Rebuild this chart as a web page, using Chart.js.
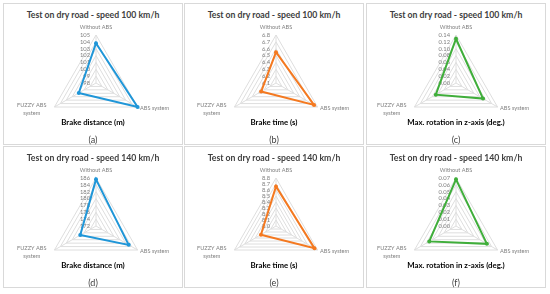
<!DOCTYPE html>
<html>
<head>
<meta charset="utf-8">
<script src="https://cdn.jsdelivr.net/npm/chart.js@4"></script>
<style>
  body { margin: 0; background: #fff; width: 550px; height: 294px; position: relative; overflow: hidden; font-family: Lato, "Open Sans", sans-serif; }
  .panel { position: absolute; width: 180px; height: 142px; box-sizing: border-box; border: 1px solid #d9d9d9; background: #fff; }
  .panel canvas { position: absolute; left: 0; top: 0; }
  .title { position: absolute; left: 0; width: 178px; top: 5px; line-height: 12px; text-align: center; font-size: 8.7px; font-weight: bold; color: #404040; white-space: nowrap; }
  .axis { position: absolute; left: 0; width: 178px; top: 113px; line-height: 10px; text-align: center; font-size: 7.8px; font-weight: bold; color: #000; white-space: nowrap; }
  .cap { position: absolute; left: 0; width: 178px; top: 131px; line-height: 10px; text-align: center; font-size: 9px; color: #404040; }
</style>
</head>
<body>
<div id="root"></div>
<script>
// axis categories of every radar
const axisLabels = ['Without ABS', 'ABS system', ['FUZZY ABS', 'system']];

// speed 100 km/h
const brakeDistance100 = [103.8, 105, 100.9];
const brakeTime100 = [6.55, 6.74, 6.35];
const rotation100 = [0.129, 0.091, 0.068];

// speed 140 km/h
const brakeDistance140 = [185.6, 183.0, 177.3];
const brakeTime140 = [8.66, 8.74, 8.29];
const rotation140 = [0.068, 0.052, 0.045];

// tick labels (first = centre, last = outer ring)
const distanceTicks100 = ['98', '99', '100', '101', '102', '103', '104', '105'];
const timeTicks100 = ['6.1', '6.2', '6.3', '6.4', '6.5', '6.6', '6.7', '6.8'];
const rotationTicks100 = ['0.00', '0.02', '0.04', '0.06', '0.08', '0.10', '0.12', '0.14'];
const distanceTicks140 = ['172', '174', '176', '178', '180', '182', '184', '186'];
const timeTicks140 = ['8.0', '8.1', '8.2', '8.3', '8.4', '8.5', '8.6', '8.7', '8.8'];
const rotationTicks140 = ['0.00', '0.01', '0.02', '0.03', '0.04', '0.05', '0.06', '0.07'];

const titles = ['Test on dry road - speed 100 km/h', 'Test on dry road - speed 140 km/h'];
const axisTitles = ['Brake distance (m)', 'Brake time (s)', 'Max. rotation in z-axis (deg.)'];
const captions = ['(a)', '(b)', '(c)', '(d)', '(e)', '(f)'];

const BLUE = '#1f96d8', ORANGE = '#f47920', GREEN = '#3fae3a';

const panels = [
    { values: brakeDistance100, ticks: distanceTicks100, color: BLUE },
    { values: brakeTime100, ticks: timeTicks100, color: ORANGE },
    { values: rotation100, ticks: rotationTicks100, color: GREEN },
    { values: brakeDistance140, ticks: distanceTicks140, color: BLUE },
    { values: brakeTime140, ticks: timeTicks140, color: ORANGE },
    { values: rotation140, ticks: rotationTicks140, color: GREEN }
];

const panelLeft = [3, 184, 366];
const panelTop = [3, 146];
const centerX = [96, 276, 456];
const centerY = [83, 226];
const RADIUS = 48;
const CW = 178, CH = 140;

// draws tick labels left of the vertical axis and the category labels, Excel style
const excelLabels = {
    id: 'excelLabels',
    beforeDatasetsDraw(chart, args, opts) {
        const s = chart.scales.r;
        const ctx = chart.ctx;
        ctx.save();
        ctx.fillStyle = '#808080';
        ctx.font = '5.8px Lato';
        ctx.textAlign = 'right';
        ctx.textBaseline = 'middle';
        opts.ticks.forEach(t => {
            const y = s.yCenter - s.getDistanceFromCenterForValue(parseFloat(t));
            ctx.fillText(t, s.xCenter - 6, y);
        });

        ctx.font = '5.6px Lato';
        const R = s.drawingArea;
        // top
        let p = s.getPointPosition(0, R);
        ctx.textAlign = 'center';
        ctx.fillText(axisLabels[0], p.x, p.y - 8);
        // lower right
        p = s.getPointPosition(1, R);
        ctx.textAlign = 'left';
        ctx.fillText(axisLabels[1], p.x + 2.5, p.y + 1);
        // lower left, two lines
        p = s.getPointPosition(2, R);
        const lines = axisLabels[2];
        const w = Math.max(...lines.map(l => ctx.measureText(l).width));
        ctx.textAlign = 'center';
        lines.forEach((l, i) => ctx.fillText(l, p.x - 8 - w / 2, p.y - 2.3 + i * 8));
        ctx.restore();
    }
};

const root = document.getElementById('root');

panels.forEach((cfg, i) => {
    const col = i % 3, row = Math.floor(i / 3);
    const div = document.createElement('div');
    div.className = 'panel';
    div.style.left = panelLeft[col] + 'px';
    div.style.top = panelTop[row] + 'px';
    div.innerHTML = `<div class="title">${titles[row]}</div>
        <canvas width="${CW}" height="${CH}"></canvas>
        <div class="axis">${axisTitles[col]}</div>
        <div class="cap">${captions[i]}</div>`;
    root.appendChild(div);

    const cx = centerX[col] - panelLeft[col] - 1;
    const cy = centerY[row] - panelTop[row] - 1;
    const tickVals = cfg.ticks.map(Number);

    new Chart(div.querySelector('canvas'), {
        type: 'radar',
        data: {
            labels: axisLabels,
            datasets: [{
                data: cfg.values,
                borderColor: cfg.color,
                backgroundColor: cfg.color,
                borderWidth: 2,
                pointRadius: 2,
                pointBorderWidth: 0,
                pointBackgroundColor: cfg.color,
                fill: false,
                clip: false
            }]
        },
        options: {
            responsive: false,
            animation: false,
            layout: {
                padding: { left: cx - RADIUS, right: CW - cx - RADIUS, top: cy - RADIUS, bottom: CH - cy - RADIUS }
            },
            plugins: {
                legend: { display: false },
                tooltip: { enabled: false },
                excelLabels: { ticks: cfg.ticks }
            },
            scales: {
                r: {
                    min: tickVals[0],
                    max: tickVals[tickVals.length - 1],
                    afterBuildTicks: s => { s.ticks = tickVals.map(v => ({ value: v })); },
                    ticks: { display: false },
                    pointLabels: { display: false },
                    grid: { color: '#dedede', lineWidth: 1 },
                    angleLines: { color: '#dedede', lineWidth: 1 }
                }
            }
        },
        plugins: [excelLabels]
    });
});
</script>
</body>
</html>
